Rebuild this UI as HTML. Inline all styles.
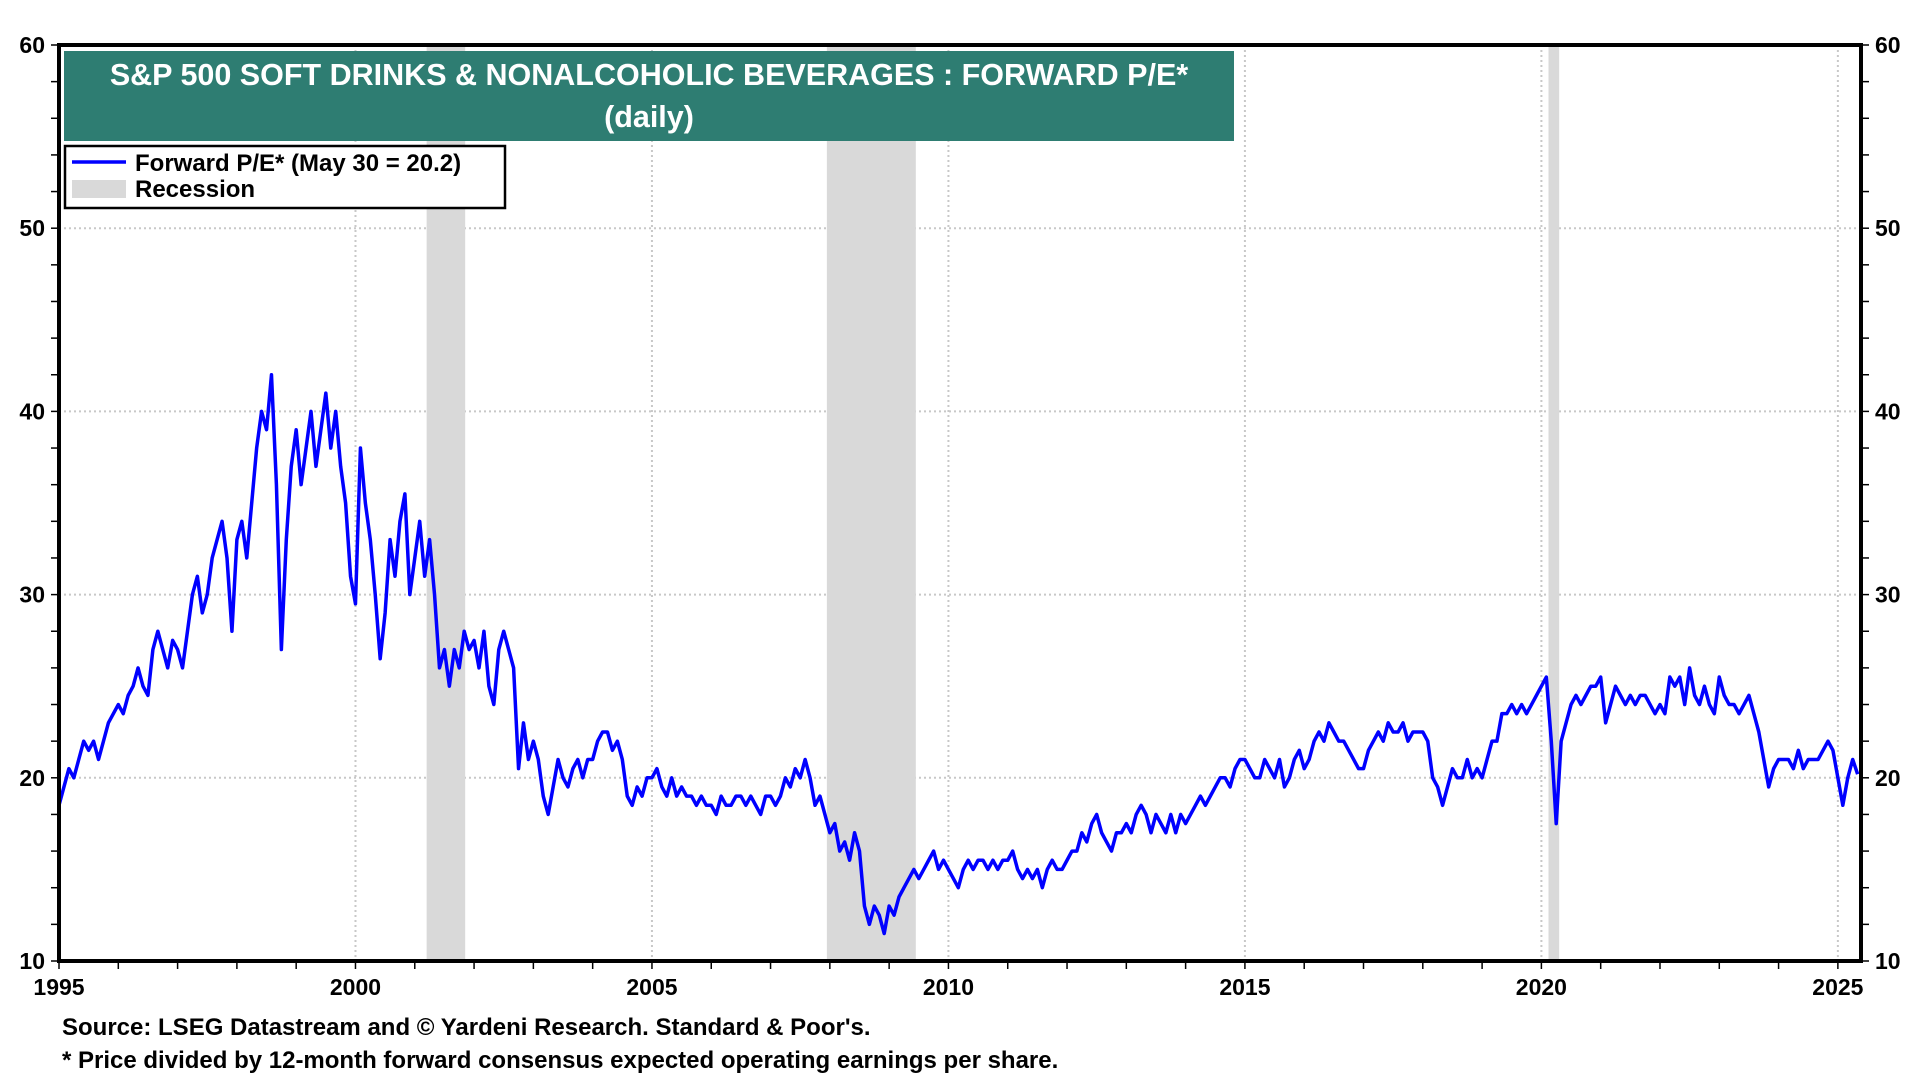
<!DOCTYPE html>
<html><head><meta charset="utf-8">
<style>
html,body{margin:0;padding:0;background:#fff;}
body{width:1920px;height:1080px;overflow:hidden;font-family:"Liberation Sans",Arial,sans-serif;}
svg text{font-family:"Liberation Sans",Arial,sans-serif;font-weight:bold;}
</style></head>
<body>
<svg id="chart" width="1920" height="1080" xmlns="http://www.w3.org/2000/svg">
<g id="grid"></g>
<g id="rec"></g>
<g id="ser"></g>
<g id="axes"></g>
<g>
<rect x="64" y="51" width="1170" height="90" fill="#2e7d72"/>
<text x="649" y="85" fill="#fff" font-size="30.5" text-anchor="middle">S&amp;P 500 SOFT DRINKS &amp; NONALCOHOLIC BEVERAGES : FORWARD P/E*</text>
<text x="649" y="127" fill="#fff" font-size="30.5" text-anchor="middle">(daily)</text>
</g>
<g>
<rect x="65" y="146" width="440" height="62" fill="#fff" stroke="#000" stroke-width="2.5"/>
<line x1="72" y1="162" x2="126" y2="162" stroke="#0000ff" stroke-width="3.5"/>
<text x="135" y="171" font-size="24">Forward P/E* (May 30 = 20.2)</text>
<rect x="72" y="180" width="54" height="18" fill="#d9d9d9"/>
<text x="135" y="197" font-size="24">Recession</text>
</g>
<text x="62" y="1035" font-size="24">Source: LSEG Datastream and © Yardeni Research. Standard &amp; Poor's.</text>
<text x="62" y="1068" font-size="24">* Price divided by 12-month forward consensus expected operating earnings per share.</text>
</svg>
<script>
const yTicks=[10,20,30,40,50,60];
const xTicks=[1995,2000,2005,2010,2015,2020,2025];
const recStart=[2001.2,2007.95,2020.12];
const recEnd=[2001.85,2009.45,2020.3];
const startYear=1995;
const pe=[
18.5,19.5,20.5,20,21,22,21.5,22,21,22,23,23.5,
24,23.5,24.5,25,26,25,24.5,27,28,27,26,27.5,
27,26,28,30,31,29,30,32,33,34,32,28,
33,34,32,35,38,40,39,42,36,27,33,37,
39,36,38,40,37,39,41,38,40,37,35,31,
29.5,38,35,33,30,26.5,29,33,31,34,35.5,30,
32,34,31,33,30,26,27,25,27,26,28,27,
27.5,26,28,25,24,27,28,27,26,20.5,23,21,
22,21,19,18,19.5,21,20,19.5,20.5,21,20,21,
21,22,22.5,22.5,21.5,22,21,19,18.5,19.5,19,20,
20,20.5,19.5,19,20,19,19.5,19,19,18.5,19,18.5,
18.5,18,19,18.5,18.5,19,19,18.5,19,18.5,18,19,
19,18.5,19,20,19.5,20.5,20,21,20,18.5,19,18,
17,17.5,16,16.5,15.5,17,16,13,12,13,12.5,11.5,
13,12.5,13.5,14,14.5,15,14.5,15,15.5,16,15,15.5,
15,14.5,14,15,15.5,15,15.5,15.5,15,15.5,15,15.5,
15.5,16,15,14.5,15,14.5,15,14,15,15.5,15,15,
15.5,16,16,17,16.5,17.5,18,17,16.5,16,17,17,
17.5,17,18,18.5,18,17,18,17.5,17,18,17,18,
17.5,18,18.5,19,18.5,19,19.5,20,20,19.5,20.5,21,
21,20.5,20,20,21,20.5,20,21,19.5,20,21,21.5,
20.5,21,22,22.5,22,23,22.5,22,22,21.5,21,20.5,
20.5,21.5,22,22.5,22,23,22.5,22.5,23,22,22.5,22.5,
22.5,22,20,19.5,18.5,19.5,20.5,20,20,21,20,20.5,
20,21,22,22,23.5,23.5,24,23.5,24,23.5,24,24.5,
25,25.5,22,17.5,22,23,24,24.5,24,24.5,25,25,
25.5,23,24,25,24.5,24,24.5,24,24.5,24.5,24,23.5,
24,23.5,25.5,25,25.5,24,26,24.5,24,25,24,23.5,
25.5,24.5,24,24,23.5,24,24.5,23.5,22.5,21,19.5,20.5,
21,21,21,20.5,21.5,20.5,21,21,21,21.5,22,21.5,
20,18.5,20,21,20.2
];
const L=59,R=1861,T=45,B=961,x0=1995,x1=2025.39,y0=10,y1=60;
const X=v=>L+(v-x0)/(x1-x0)*(R-L);
const Y=v=>B-(v-y0)/(y1-y0)*(B-T);
const NS='http://www.w3.org/2000/svg';
function mk(tag,at,parent){const e=document.createElementNS(NS,tag);for(const k in at)e.setAttribute(k,at[k]);parent.appendChild(e);return e;}
const grid=document.getElementById('grid'),rec=document.getElementById('rec'),ser=document.getElementById('ser'),axes=document.getElementById('axes');
yTicks.forEach(v=>{
 if(v>y0&&v<y1){const g=mk('line',{x1:L,x2:R,y1:Y(v),y2:Y(v),stroke:'#c8c8c8','stroke-width':2,'stroke-dasharray':'2,3'},grid);
 
 }
 const t1=mk('text',{x:L-14,y:Y(v)+8,'font-size':23,'text-anchor':'end'},axes);t1.textContent=v;
 
 
 const t2=mk('text',{x:R+14,y:Y(v)+8,'font-size':23,'text-anchor':'start'},axes);t2.textContent=v;
 
 
});
for(let v=y0;v<=y1;v+=2){mk('line',{x1:L-8,x2:L,y1:Y(v),y2:Y(v),stroke:'#000','stroke-width':1.5},axes);mk('line',{x1:R,x2:R+8,y1:Y(v),y2:Y(v),stroke:'#000','stroke-width':1.5},axes);}
xTicks.forEach(v=>{
 if(v>x0){const g=mk('line',{x1:X(v),x2:X(v),y1:T,y2:B,stroke:'#c8c8c8','stroke-width':2,'stroke-dasharray':'2,3'},grid);
 
 }
 const t=mk('text',{x:X(v),y:B+34,'font-size':23,'text-anchor':'middle'},axes);t.textContent=v;
 
 
});
for(let v=1995;v<=2025;v++)mk('line',{x1:X(v),x2:X(v),y1:B,y2:B+8,stroke:'#000','stroke-width':1.5},axes);
recStart.forEach((s,i)=>{const r=mk('rect',{x:X(s),y:T,width:X(recEnd[i])-X(s),height:B-T,fill:'#d9d9d9'},rec);
 
 });
const pts=pe.map((v,i)=>X(startYear+i/12)+','+Y(v)).join(' ');
const pl=mk('polyline',{points:pts,fill:'none',stroke:'#0000ff','stroke-width':3.5,'stroke-linejoin':'round'},ser);


const fr=mk('rect',{x:L,y:T,width:R-L,height:B-T,fill:'none',stroke:'#000','stroke-width':4},axes);


</script>
</body></html>
